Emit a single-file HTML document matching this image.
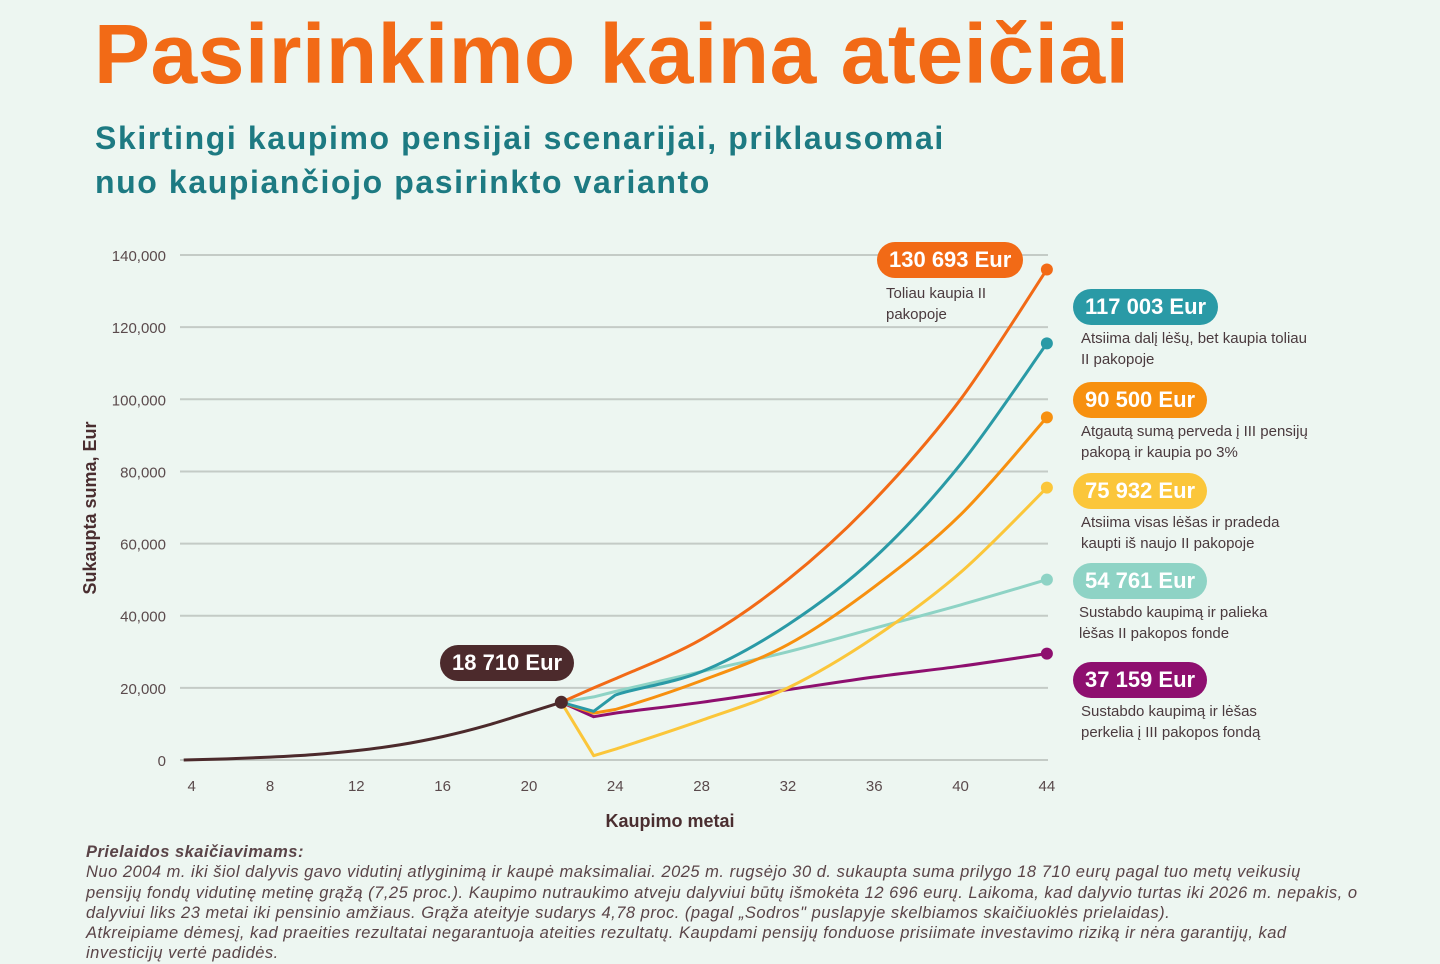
<!DOCTYPE html>
<html><head><meta charset="utf-8">
<style>
body{margin:0;width:1440px;height:960px;background:#edf6f1;font-family:"Liberation Sans",sans-serif;overflow:hidden;position:relative}
.t{position:absolute;margin:0}
.pill{position:absolute;height:36px;border-radius:18px;color:#fff;font-weight:bold;font-size:22px;line-height:36px;padding:0 12px;white-space:nowrap}
.desc{position:absolute;font-size:15px;color:#4a3a3e;line-height:21px}
</style></head><body>
<h1 class="t" style="left:94px;top:6px;font-size:84px;font-weight:bold;color:#f26a16;letter-spacing:0.5px">Pasirinkimo kaina ateičiai</h1>
<h2 class="t" style="left:95px;top:116px;font-size:32px;line-height:44px;font-weight:bold;color:#1d7a82;letter-spacing:1.6px">Skirtingi kaupimo pensijai scenarijai, priklausomai<br>nuo kaupiančiojo pasirinkto varianto</h2>
<svg id="chart" width="1440" height="960" style="position:absolute;left:0;top:0"></svg>
<div class="pill" style="left:877px;top:242px;background:#f26a16">130 693 Eur</div>
<div class="desc" style="left:886px;top:283px">Toliau kaupia II<br>pakopoje</div>
<div class="pill" style="left:1073px;top:289px;background:#2a9aa6">117 003 Eur</div>
<div class="desc" style="left:1081px;top:328px">Atsiima dalį lėšų, bet kaupia toliau<br>II pakopoje</div>
<div class="pill" style="left:1073px;top:382px;background:#f7900f">90 500 Eur</div>
<div class="desc" style="left:1081px;top:421px">Atgautą sumą perveda į III pensijų<br>pakopą ir kaupia po 3%</div>
<div class="pill" style="left:1073px;top:473px;background:#fbc63a">75 932 Eur</div>
<div class="desc" style="left:1081px;top:512px">Atsiima visas lėšas ir pradeda<br>kaupti iš naujo II pakopoje</div>
<div class="pill" style="left:1073px;top:563px;background:#8ed3c5">54 761 Eur</div>
<div class="desc" style="left:1079px;top:602px">Sustabdo kaupimą ir palieka<br>lėšas II pakopos fonde</div>
<div class="pill" style="left:1073px;top:662px;background:#8e0f6f">37 159 Eur</div>
<div class="desc" style="left:1081px;top:701px">Sustabdo kaupimą ir lėšas<br>perkelia į III pakopos fondą</div>
<div class="pill" style="left:440px;top:645px;background:#4c2a2c">18 710 Eur</div>
<div class="t" style="left:86px;top:842px;white-space:nowrap;font-size:16.5px;letter-spacing:0.5px;line-height:20.3px;font-style:italic;color:#5a4448">
<b>Prielaidos skaičiavimams:</b><br>
Nuo 2004 m. iki šiol dalyvis gavo vidutinį atlyginimą ir kaupė maksimaliai. 2025 m. rugsėjo 30 d. sukaupta suma prilygo 18 710 eurų pagal tuo metų veikusių<br>
pensijų fondų vidutinę metinę grąžą (7,25 proc.). Kaupimo nutraukimo atveju dalyviui būtų išmokėta 12 696 eurų. Laikoma, kad dalyvio turtas iki 2026 m. nepakis, o<br>
dalyviui liks 23 metai iki pensinio amžiaus. Grąža ateityje sudarys 4,78 proc. (pagal „Sodros" puslapyje skelbiamos skaičiuoklės prielaidas).<br>
Atkreipiame dėmesį, kad praeities rezultatai negarantuoja ateities rezultatų. Kaupdami pensijų fonduose prisiimate investavimo riziką ir nėra garantijų, kad<br>
investicijų vertė padidės.</div>
<script>
const yTicks=[0,20000,40000,60000,80000,100000,120000,140000];
const xTicks=[4,8,12,16,20,24,28,32,36,40,44];
const baseYears=[4,6,8,10,12,14,16,18,20,21.5];
const baseVals=[0,300,800,1500,2600,4200,6500,9500,13200,16000];
const scYears=[21.5,23,24,28,32,36,40,44];
const orange=[16000,20000,22500,33500,50000,72000,100000,136000];
const teal=[16000,13500,18000,24500,37500,56000,82000,115500];
const amber=[16000,13000,14000,22000,32000,48000,68000,95000];
const yellow=[16000,1200,3000,11000,20000,34000,52000,75500];
const mint=[16000,17500,19000,24500,30000,36500,43000,50000];
const purple=[16000,12000,13000,16000,19500,23000,26000,29500];
const series=[[mint,'#8ed3c5','mint'],[purple,'#8e0f6f','purple'],[yellow,'#fbc63a','yellow'],[amber,'#f7900f','amber'],[teal,'#2a9aa6','teal'],[orange,'#f26a16','orange']];
const X=v=>270+(v-8)*21.58, Y=v=>760-v*0.003607;
const svg=document.getElementById('chart'),NS='http://www.w3.org/2000/svg';
function mk(t,a,p){const e=document.createElementNS(NS,t);for(const k in a)e.setAttribute(k,a[k]);(p||svg).appendChild(e);return e;}
yTicks.forEach(v=>{
 const l=mk('line',{x1:180,x2:1048,y1:Y(v),y2:Y(v),stroke:'#c4cbc6','stroke-width':2});
 
 
 const t=mk('text',{x:166,y:Y(v)+6,'text-anchor':'end','font-size':15,fill:'#5a4a4c','font-family':'Liberation Sans'});
 t.textContent=v.toLocaleString('en-US');
 
 
});
xTicks.forEach(v=>{
 const t=mk('text',{x:X(v)+(v===4?8:0),y:791,'text-anchor':'middle','font-size':15,fill:'#5a4a4c','font-family':'Liberation Sans'});
 t.textContent=v;
 
 
});
let yt=mk('text',{x:0,y:0,transform:'translate(96,508) rotate(-90)','text-anchor':'middle','font-size':18,'font-weight':'bold',fill:'#4a2e30','font-family':'Liberation Sans'});
yt.textContent='Sukaupta suma, Eur';


let xt=mk('text',{x:670,y:827,'text-anchor':'middle','font-size':18,'font-weight':'bold',fill:'#4a2e30','font-family':'Liberation Sans'});
xt.textContent='Kaupimo metai';


function path(xs,vs){
 const p=xs.map((x,i)=>[X(x),Y(vs[i])]);
 let d='M'+p[0][0].toFixed(1)+' '+p[0][1].toFixed(1);
 for(let i=0;i<p.length-1;i++){
  const sharp=(i===0||i===1);
  if(sharp){d+=' L'+p[i+1][0].toFixed(1)+' '+p[i+1][1].toFixed(1);continue;}
  const p0=p[i-1],p1=p[i],p2=p[i+1],p3=p[i+2]||p2;
  const c1=[p1[0]+(p2[0]-p0[0])/6,p1[1]+(p2[1]-p0[1])/6];
  const c2=[p2[0]-(p3[0]-p1[0])/6,p2[1]-(p3[1]-p1[1])/6];
  d+=' C'+c1.map(v=>v.toFixed(1)).join(' ')+' '+c2.map(v=>v.toFixed(1)).join(' ')+' '+p2[0].toFixed(1)+' '+p2[1].toFixed(1);
 }
 return d;
}
series.forEach(([vals,c,n])=>{
 const p=mk('path',{d:path(scYears,vals),fill:'none',stroke:c,'stroke-width':3,'stroke-linejoin':'round'});
 
 
 const d=mk('circle',{cx:X(scYears[scYears.length-1]),cy:Y(vals[vals.length-1]),r:6,fill:c});
 
 
});
const bp=mk('path',{d:path([baseYears[0]].concat(baseYears),[baseVals[0]].concat(baseVals)),fill:'none',stroke:'#4c2a2c','stroke-width':3});


const bd=mk('circle',{cx:X(21.5),cy:Y(16000),r:6.5,fill:'#4c2a2c'});


</script>
</body></html>
